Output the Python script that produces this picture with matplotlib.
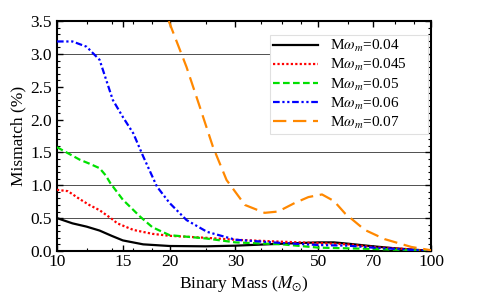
import matplotlib
matplotlib.use("Agg")
import matplotlib.pyplot as plt
from matplotlib.ticker import FixedLocator, NullFormatter, AutoMinorLocator

plt.rcParams['font.family'] = ['Liberation Serif', 'DejaVu Serif']
plt.rcParams['mathtext.fontset'] = 'stix'

# Data
m_04 = [10, 11, 12, 13, 14, 15, 17, 20, 25, 30, 40, 50, 55, 60, 70, 80, 100]
v_04 = [0.50, 0.42, 0.37, 0.31, 0.23, 0.16, 0.10, 0.075, 0.07, 0.08, 0.11, 0.13, 0.13, 0.11, 0.07, 0.04, 0.0]

m_045 = [10, 10.7, 11.5, 12.2, 13.0, 14.0, 14.5, 16.0, 18, 20, 25, 30, 40, 50, 60, 70, 85, 100]
v_045 = [0.93, 0.91, 0.79, 0.70, 0.62, 0.49, 0.42, 0.32, 0.26, 0.23, 0.20, 0.17, 0.14, 0.12, 0.10, 0.06, 0.03, 0.0]

m_05 = [10, 11.5, 12.2, 13.0, 13.5, 13.9, 15.0, 16.7, 18, 20, 25, 30, 40, 50, 70, 100]
v_05 = [1.58, 1.39, 1.33, 1.26, 1.15, 1.03, 0.78, 0.52, 0.36, 0.24, 0.19, 0.13, 0.10, 0.05, 0.03, 0.0]

m_06 = [10, 11, 12, 13.0, 14.1, 15.0, 16.0, 17.0, 18.5, 20, 22.2, 25.2, 30, 40, 50, 60, 70, 100]
v_06 = [3.19, 3.19, 3.11, 2.91, 2.30, 2.04, 1.79, 1.44, 0.98, 0.73, 0.47, 0.29, 0.17, 0.12, 0.09, 0.08, 0.05, 0.0]

m_07 = [19.9, 22.2, 24.1, 26.1, 28.4, 31.8, 35.9, 39, 43.2, 47, 51.1, 55, 58.9, 66.5, 75.1, 88.6, 100]
v_07 = [3.5, 2.80, 2.19, 1.59, 1.08, 0.70, 0.58, 0.60, 0.73, 0.82, 0.86, 0.76, 0.57, 0.32, 0.18, 0.06, 0.01]

labels = [r'M$\omega_m$=0.04', r'M$\omega_m$=0.045', r'M$\omega_m$=0.05',
          r'M$\omega_m$=0.06', r'M$\omega_m$=0.07']
xticks = [10, 15, 20, 30, 50, 70, 100]
yticks = [0.0, 0.5, 1.0, 1.5, 2.0, 2.5, 3.0, 3.5]
grid_y = [0.5, 1.0, 1.5, 3.0]

fig = plt.figure(figsize=(4.91, 3.06), dpi=100)
ax = fig.add_axes([0.116, 0.180, 0.762, 0.751])

for g in grid_y:
    ax.axhline(g, color='#333333', lw=0.6, zorder=1)

ax.plot(m_04, v_04, color='black', lw=1.6, ls='-', label=labels[0], zorder=3)
ax.plot(m_045, v_045, color='#ff0000', lw=1.6, ls=(0, (1, 1)), label=labels[1], zorder=3)
ax.plot(m_05, v_05, color='#00e000', lw=1.6, ls=(0, (3, 1.5)), label=labels[2], zorder=3)
ax.plot(m_06, v_06, color='#0000ff', lw=1.6, ls=(0, (3, 1.2, 1, 1.2, 1, 1.2)), label=labels[3], zorder=3)
ax.plot(m_07, v_07, color='#ff8800', lw=1.6, ls=(0, (6, 3)), label=labels[4], zorder=3)

ax.set_xscale('log')
ax.set_xlim(10, 100)
ax.set_ylim(0, 3.5)
ax.xaxis.set_major_locator(FixedLocator(xticks))
ax.set_xticklabels([str(t) for t in xticks])
ax.xaxis.set_minor_locator(FixedLocator([12, 14, 16, 18, 25, 35, 40, 45, 60, 80, 90]))
ax.xaxis.set_minor_formatter(NullFormatter())
ax.set_yticks(yticks)
ax.set_yticklabels(['%.1f' % t for t in yticks])
ax.yaxis.set_minor_locator(AutoMinorLocator(5))

ax.tick_params(which='both', direction='in', top=True, right=True, labelsize=12.5)
ax.tick_params(which='major', length=4, width=1.0)
ax.tick_params(which='minor', length=2, width=0.8)
ax.tick_params(axis='x', pad=2)
for s in ax.spines.values():
    s.set_linewidth(1.5)

ax.set_xlabel(r'Binary Mass ($M_{\odot}$)', fontsize=12.5, labelpad=3)
ax.set_ylabel('Mismatch (%)', fontsize=12.5, labelpad=3)

leg = ax.legend(loc='upper left', fontsize=11, handlelength=2.9, frameon=True,
                fancybox=False, edgecolor='#e0e0e0', framealpha=1,
                borderpad=0.2, labelspacing=0.2, handletextpad=0.8,
                borderaxespad=0, mode='expand',
                bbox_to_anchor=(0.570, 0.0, 0.422, 0.939))
leg.get_frame().set_linewidth(0.8)
leg.set_zorder(5)

fig.savefig('out.png', dpi=100)
